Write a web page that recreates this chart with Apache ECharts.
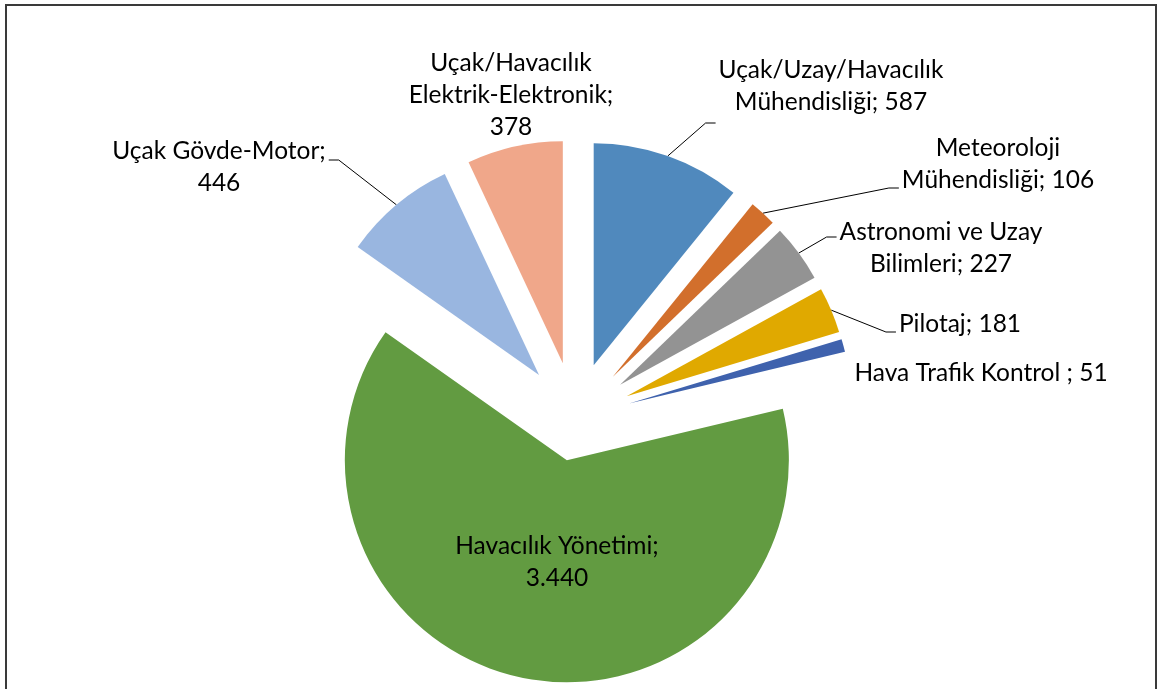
<!DOCTYPE html>
<html>
<head>
<meta charset="utf-8">
<script src="https://cdn.jsdelivr.net/npm/echarts@6/dist/echarts.min.js"></script>
<style>
    html, body { margin: 0; padding: 0; background: #fff; }
    #main { width: 1157px; height: 689px; }
</style>
</head>
<body>
<div id="main"></div>
<script>
// veriler (saat yönünde, tepeden başlayarak)
const categories = [
    'Uçak/Uzay/Havacılık\nMühendisliği',
    'Meteoroloji\nMühendisliği',
    'Astronomi ve Uzay\nBilimleri',
    'Pilotaj',
    'Hava Trafik Kontrol ',
    'Havacılık Yönetimi',
    'Uçak Gövde-Motor',
    'Uçak/Havacılık\nElektrik-Elektronik'
];
const values = [587, 106, 227, 181, 51, 3440, 446, 378];
const valueOnNewLine = [false, false, false, false, false, true, true, true];

// görünüm
const colors = ['#5089BD', '#D26F2C', '#939393', '#E0A900', '#3F62AD', '#629B41', '#99B6E0', '#F0A78A'];
const pieCenter = [575, 418];
const pieRadius = 222;
const explode = [56, 56, 56, 56, 56, 43, 56, 56];
// etiket merkezleri ve kılavuz çizgisi ucu (etiket merkezine göre dikey kayma)
const labelAt = [[831, 86], [998, 164], [941, 248], [960, 324], [981, 373], [557, 562], [219, 167], [511, 95]];
const leaderDy = [37, 24, -11, 8, null, null, -7, null];

function fmt(v) {
    return String(v).replace(/\B(?=(\d{3})+(?!\d))/g, '.');
}

let chart = echarts.init(document.getElementById('main'));
let total = values.reduce((a, b) => a + b, 0);
let acc = 0;
let series = values.map(function (v, i) {
    let mid = (acc + v / 2) / total * 2 * Math.PI;
    acc += v;
    let cx = pieCenter[0] + explode[i] * Math.sin(mid);
    let cy = pieCenter[1] - explode[i] * Math.cos(mid);
    // dilimin dış yayının orta noktası
    let edge = [cx + pieRadius * Math.sin(mid), cy - pieRadius * Math.cos(mid)];
    let hasLeader = leaderDy[i] !== null;
    return {
        type: 'pie',
        center: [cx, cy],
        radius: pieRadius,
        startAngle: 90,
        clockwise: true,
        silent: true,
        avoidLabelOverlap: false,
        itemStyle: { borderWidth: 0 },
        label: {
            show: false,
            position: hasLeader ? 'outside' : 'inside',
            color: '#000',
            fontFamily: 'Lato',
            fontSize: 24.5,
            lineHeight: 32,
            align: 'center',
            formatter: function (p) {
                return p.name + ';' + (valueOnNewLine[p.dataIndex] ? '\n' : ' ') + fmt(p.value);
            }
        },
        labelLine: {
            show: false,
            smooth: false,
            length: 10,
            length2: 10,
            lineStyle: { color: '#000', width: 1 }
        },
        labelLayout: function (p) {
            if (p.dataIndex !== i) {
                return {};
            }
            let out = {
                x: labelAt[i][0],
                y: labelAt[i][1],
                align: 'center',
                verticalAlign: 'middle'
            };
            if (hasLeader) {
                let half = p.labelRect.width / 2;
                let side = edge[0] < labelAt[i][0] ? -1 : 1;
                let end = [labelAt[i][0] + side * (half + 3), labelAt[i][1] + leaderDy[i]];
                out.labelLinePoints = [edge, [end[0] + side * 10, end[1]], end];
            }
            return out;
        },
        data: values.map(function (w, j) {
            return {
                name: categories[j],
                value: w,
                itemStyle: { color: j === i ? colors[j] : 'rgba(0,0,0,0)' },
                label: { show: j === i },
                labelLine: { show: j === i && hasLeader }
            };
        })
    };
});

let option = {
    animation: false,
    backgroundColor: '#fff',
    graphic: [{
        type: 'rect',
        silent: true,
        z: -1,
        shape: { x: 6, y: 5, width: 1150, height: 720 },
        style: { fill: 'none', stroke: '#3a3a3a', lineWidth: 2 }
    }],
    series: series
};
chart.setOption(option);
</script>
</body>
</html>
